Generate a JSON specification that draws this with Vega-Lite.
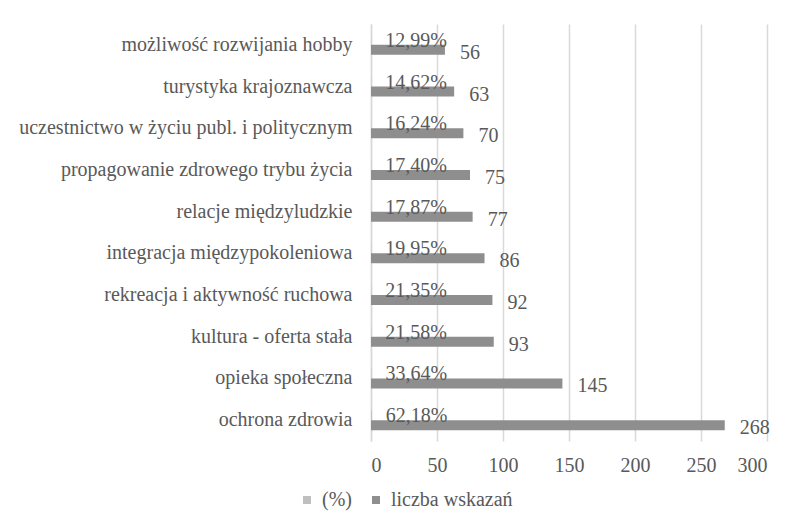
{
  "$schema": "https://vega.github.io/schema/vega-lite/v6.json",
  "width": 396,
  "height": 417,
  "autosize": "none",
  "padding": {"left": 371, "top": 24, "right": 29, "bottom": 82},
  "background": "white",
  "config": {
    "locale": {"number": {"decimal": ",", "thousands": "\u00a0", "grouping": [3], "currency": ["", " zł"]}},
    "view": {"stroke": null},
    "font": "'Liberation Serif', 'DejaVu Serif', serif"
  },
  "data": {
    "values": [
      {"k": "możliwość rozwijania hobby", "s": "(%)", "v": 0.1299},
      {"k": "możliwość rozwijania hobby", "s": "liczba wskazań", "v": 56},
      {"k": "turystyka krajoznawcza", "s": "(%)", "v": 0.1462},
      {"k": "turystyka krajoznawcza", "s": "liczba wskazań", "v": 63},
      {"k": "uczestnictwo w życiu publ. i politycznym", "s": "(%)", "v": 0.1624},
      {"k": "uczestnictwo w życiu publ. i politycznym", "s": "liczba wskazań", "v": 70},
      {"k": "propagowanie zdrowego trybu życia", "s": "(%)", "v": 0.174},
      {"k": "propagowanie zdrowego trybu życia", "s": "liczba wskazań", "v": 75},
      {"k": "relacje międzyludzkie", "s": "(%)", "v": 0.1787},
      {"k": "relacje międzyludzkie", "s": "liczba wskazań", "v": 77},
      {"k": "integracja międzypokoleniowa", "s": "(%)", "v": 0.1995},
      {"k": "integracja międzypokoleniowa", "s": "liczba wskazań", "v": 86},
      {"k": "rekreacja i aktywność ruchowa", "s": "(%)", "v": 0.2135},
      {"k": "rekreacja i aktywność ruchowa", "s": "liczba wskazań", "v": 92},
      {"k": "kultura - oferta stała", "s": "(%)", "v": 0.2158},
      {"k": "kultura - oferta stała", "s": "liczba wskazań", "v": 93},
      {"k": "opieka społeczna", "s": "(%)", "v": 0.3364},
      {"k": "opieka społeczna", "s": "liczba wskazań", "v": 145},
      {"k": "ochrona zdrowia", "s": "(%)", "v": 0.6218},
      {"k": "ochrona zdrowia", "s": "liczba wskazań", "v": 268}
    ]
  },
  "encoding": {
    "y": {
      "field": "k",
      "type": "nominal",
      "sort": null,
      "scale": {"paddingInner": 0.52, "paddingOuter": 0.26},
      "axis": {
        "title": null,
        "ticks": false,
        "labelPadding": 19,
        "labelFontSize": 20,
        "labelColor": "#595959",
        "labelLimit": 400,
        "domainColor": "#D9D9D9",
        "domainWidth": 1.5
      }
    },
    "yOffset": {"field": "s", "type": "nominal", "sort": ["(%)", "liczba wskazań"]},
    "x": {
      "field": "v",
      "type": "quantitative",
      "scale": {"domain": [0, 300], "nice": false},
      "axis": {
        "title": null,
        "ticks": false,
        "domain": false,
        "grid": true,
        "gridColor": "#D9D9D9",
        "gridWidth": 1.5,
        "values": [0, 50, 100, 150, 200, 250, 300],
        "labelPadding": 14,
        "labelFontSize": 20,
        "labelColor": "#595959"
      }
    }
  },
  "layer": [
    {
      "mark": {"type": "bar"},
      "encoding": {
        "color": {
          "field": "s",
          "type": "nominal",
          "scale": {"domain": ["(%)", "liczba wskazań"], "range": ["#BFBFBF", "#8E8E8E"]},
          "legend": {
            "orient": "none",
            "legendX": -74,
            "legendY": 466,
            "direction": "horizontal",
            "title": null,
            "symbolType": "square",
            "symbolSize": 64,
            "symbolStrokeWidth": 0,
            "labelFontSize": 20,
            "labelColor": "#595959",
            "labelOffset": 5,
            "columnPadding": 14,
            "padding": 0
          }
        }
      }
    },
    {
      "transform": [{"filter": "datum.s === '(%)'"}],
      "mark": {"type": "text", "align": "left", "baseline": "middle", "dx": 14, "dy": 1, "fontSize": 20, "color": "#595959"},
      "encoding": {"text": {"field": "v", "type": "quantitative", "format": ".2%"}}
    },
    {
      "transform": [{"filter": "datum.s === 'liczba wskazań'"}],
      "mark": {"type": "text", "align": "left", "baseline": "middle", "dx": 15, "dy": 3, "fontSize": 20, "color": "#595959"},
      "encoding": {"text": {"field": "v", "type": "quantitative"}}
    }
  ]
}
